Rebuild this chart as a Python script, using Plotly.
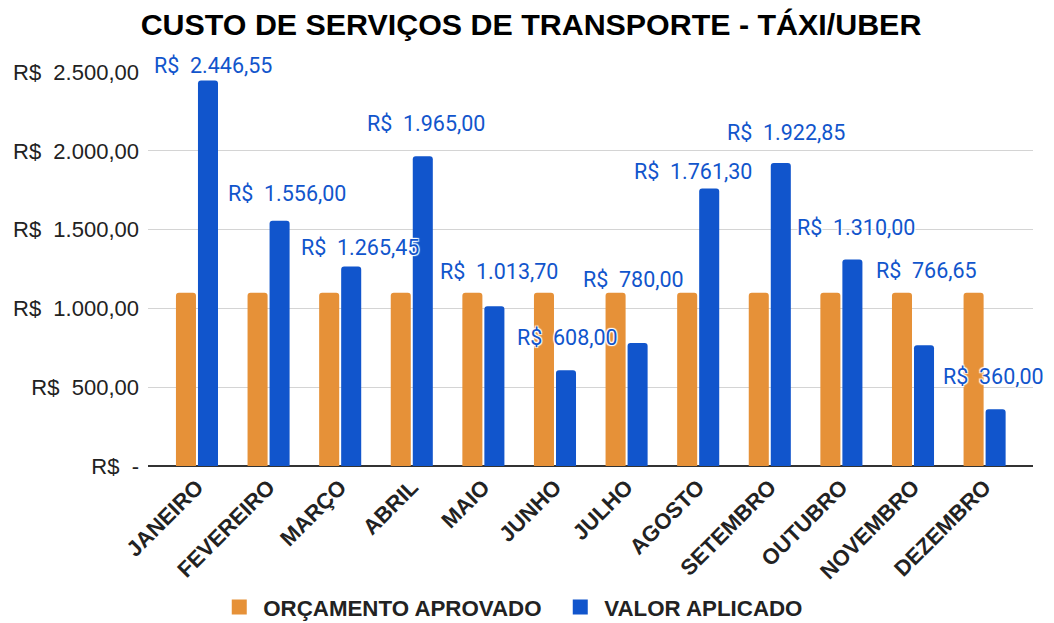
import plotly.graph_objects as go

months = ["JANEIRO", "FEVEREIRO", "MARÇO", "ABRIL", "MAIO", "JUNHO",
          "JULHO", "AGOSTO", "SETEMBRO", "OUTUBRO", "NOVEMBRO", "DEZEMBRO"]
orcamento = [1100, 1100, 1100, 1100, 1100, 1100, 1100, 1100, 1100, 1100, 1100, 1100]
valor_aplicado = [2446.55, 1556.00, 1265.45, 1965.00, 1013.70, 608.00,
                  780.00, 1761.30, 1922.85, 1310.00, 766.65, 360.00]
valor_labels = ["R$\u00a0\u00a02.446,55", "R$\u00a0\u00a01.556,00", "R$\u00a0\u00a01.265,45",
                "R$\u00a0\u00a01.965,00", "R$\u00a0\u00a01.013,70", "R$\u00a0\u00a0608,00",
                "R$\u00a0\u00a0780,00", "R$\u00a0\u00a01.761,30", "R$\u00a0\u00a01.922,85",
                "R$\u00a0\u00a01.310,00", "R$\u00a0\u00a0766,65", "R$\u00a0\u00a0360,00"]
tick_vals = [0, 500, 1000, 1500, 2000, 2500]
tick_text = ["R$\u00a0\u00a0-", "R$\u00a0\u00a0500,00", "R$\u00a0\u00a01.000,00",
             "R$\u00a0\u00a01.500,00", "R$\u00a0\u00a02.000,00", "R$\u00a0\u00a02.500,00"]

# label placement offsets (pixels) relative to category centre / bar top
label_dx = [16, 18, 20, 14, 16, 13, 7, -5, 16, 15, 13, 9]
label_dy = [15, 27, 19, 33, 35, 33, 64, 17, 30, 32, 75, 33]

ORANGE = "#E69138"
BLUE = "#1155CC"

fig = go.Figure()
fig.add_trace(go.Bar(name="ORÇAMENTO APROVADO", x=months, y=orcamento, showlegend=False,
                     marker=dict(color=ORANGE, line=dict(width=0))))
fig.add_trace(go.Bar(name="VALOR APLICADO", x=months, y=valor_aplicado, showlegend=False,
                     marker=dict(color=BLUE, line=dict(width=0))))
# legend entries with larger square swatches
for name, col in [("ORÇAMENTO APROVADO", ORANGE), ("VALOR APLICADO", BLUE)]:
    fig.add_trace(go.Scatter(name=name, x=[None], y=[None], mode="markers",
                             marker=dict(symbol="square", size=15, color=col),
                             hoverinfo="skip"))

halo = "1px 1px 1px #fff, -1px -1px 1px #fff, 1px -1px 1px #fff, -1px 1px 1px #fff"
for m, v, t, dx, dy in zip(months, valor_aplicado, valor_labels, label_dx, label_dy):
    fig.add_annotation(x=m, y=v, text=t, showarrow=False, xref="x", yref="y",
                       xanchor="center", yanchor="middle", xshift=dx, yshift=dy,
                       font=dict(family="Roboto", size=21.5, color=BLUE, shadow=halo))

# page body has an 8px margin; the figure is offset by it
fig.update_layout(
    width=1046, height=615,
    margin=dict(l=140, r=21, t=64, b=157, autoexpand=False),
    paper_bgcolor="white", plot_bgcolor="white",
    barmode="group", bargap=0.385, bargroupgap=0.09, barcornerradius=3,
    title=dict(text="CUSTO DE SERVIÇOS DE TRANSPORTE - TÁXI/UBER",
               x=0.5, xanchor="center", y=0.974, yanchor="middle",
               font=dict(family="Liberation Sans", size=30.4, color="#000", weight="bold")),
    legend=dict(orientation="h", x=0.076, xanchor="left", y=-0.358, yanchor="middle",
                entrywidth=288, entrywidthmode="pixels", itemwidth=38,
                font=dict(family="Liberation Sans", size=22.3, color="#222", weight="bold"),
                itemclick=False),
    showlegend=True,
)
fig.update_xaxes(type="category", range=[-0.684, 11.676], tickangle=-45, automargin=False,
                 tickfont=dict(family="Liberation Sans", size=22, color="#222", weight="bold"),
                 showgrid=False, showline=False, ticks="", zeroline=False, ticklabelstandoff=3)
fig.update_yaxes(range=[0, 2500], tickvals=tick_vals, ticktext=tick_text, automargin=False,
                 tickfont=dict(family="Liberation Sans", size=22, color="#222"),
                 showgrid=True, gridcolor="#d4d4d4", gridwidth=1,
                 zeroline=True, zerolinecolor="#333333", zerolinewidth=2,
                 showline=False, ticks="", ticklabelstandoff=8)

fig.write_html("out.html")
